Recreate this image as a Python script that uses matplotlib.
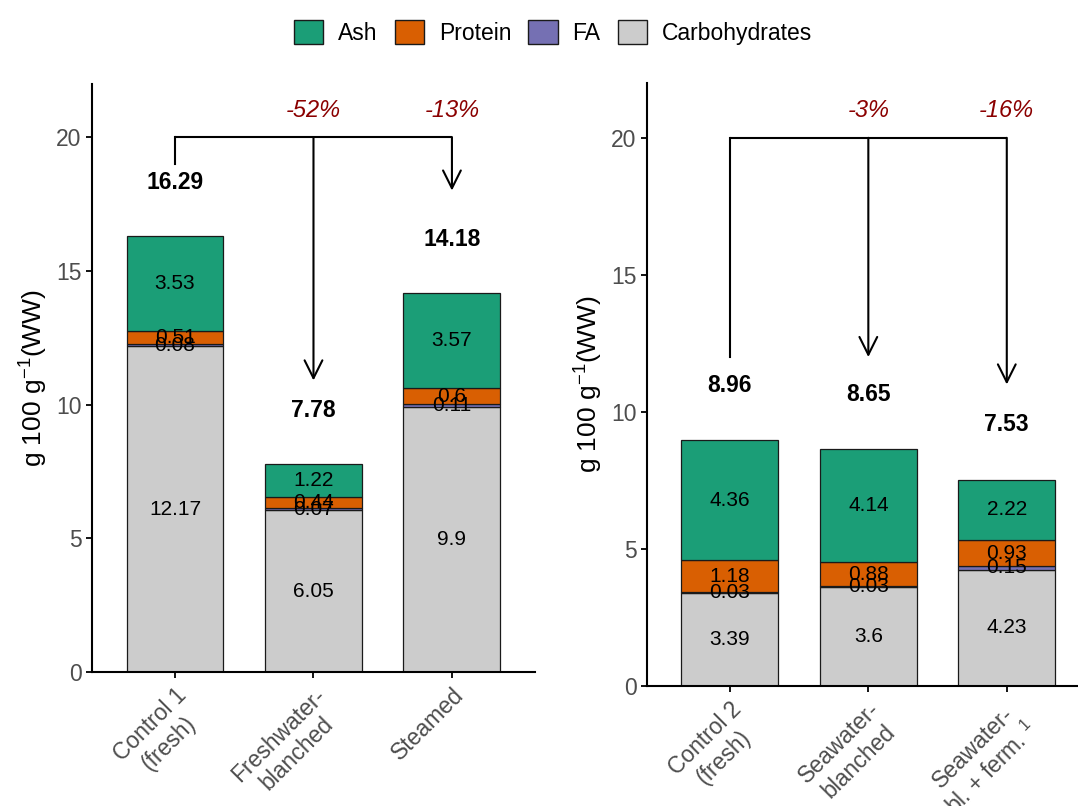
import numpy as np
import matplotlib
matplotlib.use('Agg')
from matplotlib import pyplot as plt
from matplotlib.patches import Patch

plt.rcParams['font.family'] = ['Liberation Sans', 'DejaVu Sans']
plt.rcParams['mathtext.fontset'] = 'custom'
plt.rcParams['mathtext.rm'] = 'Liberation Sans'

# data
components = ['Carbohydrates', 'FA', 'Protein', 'Ash']
colors = {'Ash': '#1B9E77', 'Protein': '#D95F02', 'FA': '#7570B3', 'Carbohydrates': '#CCCCCC'}

cats1 = ['Control 1\n(fresh)', 'Freshwater-\nblanched', 'Steamed']
carb1 = [12.17, 6.05, 9.9]
fa1 = [0.08, 0.07, 0.11]
prot1 = [0.51, 0.44, 0.6]
ash1 = [3.53, 1.22, 3.57]
pct1 = ['-52%', '-13%']
tips1 = [19.0, 10.9, 18.0]   # bracket ends (first = start leg)

cats2 = ['Control 2\n(fresh)', 'Seawater-\nblanched', 'Seawater-\nbl. + ferm. $^1$']
carb2 = [3.39, 3.6, 4.23]
fa2 = [0.03, 0.03, 0.15]
prot2 = [1.18, 0.88, 0.93]
ash2 = [4.36, 4.14, 2.22]
pct2 = ['-3%', '-16%']
tips2 = [12.0, 12.0, 11.0]

fig = plt.figure(figsize=(10.78, 8.06), dpi=100)
ax1 = fig.add_axes([0.0853, 0.1663, 0.411, 0.730])
ax2 = fig.add_axes([0.600, 0.149, 0.411, 0.748])

def panel(ax, cats, carb, fa, prot, ash, pct, tips):
	x = np.arange(1, len(cats) + 1)
	vals = {'Carbohydrates': carb, 'FA': fa, 'Protein': prot, 'Ash': ash}
	bottom = np.zeros(len(cats))
	for c in components:
		v = np.array(vals[c])
		ax.bar(x, v, 0.7, bottom=bottom, color=colors[c], edgecolor='#1a1a1a', linewidth=0.9)
		for xi, b, vi in zip(x, bottom, v):
			ax.text(xi, b + vi / 2, f'{vi:g}', ha='center', va='center', fontsize=15)
		bottom = bottom + v
	for xi, t in zip(x, bottom):
		ax.text(xi, t + 2, f'{t:.2f}', ha='center', va='center', fontsize=16.5, fontweight='bold')
	# bracket with arrows
	ax.plot([x[0], x[-1]], [20, 20], color='black', lw=1.5, solid_capstyle='butt')
	ax.plot([x[0], x[0]], [20, tips[0]], color='black', lw=1.5)
	for xi, tp in zip(x[1:], tips[1:]):
		ax.annotate('', xy=(xi, tp), xytext=(xi, 20),
			arrowprops=dict(arrowstyle='->', color='black', lw=1.5, mutation_scale=32, shrinkA=0, shrinkB=0))
	for xi, p in zip(x[1:], pct):
		ax.text(xi, 21, p, ha='center', va='center', fontsize=17, style='italic', color='#8B0000')
	ax.set_xlim(0.4, 3.6)
	ax.set_ylim(0, 22)
	ax.set_yticks([0, 5, 10, 15, 20])
	ax.set_xticks(x)
	ax.set_xticklabels(cats, rotation=45, ha='right', va='top', rotation_mode='anchor',
		multialignment='center', fontsize=16.5, color='#4D4D4D')
	ax.tick_params(axis='y', labelsize=16.5, labelcolor='#4D4D4D', length=4.5, width=1.3, pad=3)
	ax.tick_params(axis='x', length=4.5, width=1.3, pad=4)
	for s in ['top', 'right']:
		ax.spines[s].set_visible(False)
	for s in ['left', 'bottom']:
		ax.spines[s].set_linewidth(1.5)
	ax.set_ylabel('g 100 g$^{-1}$(WW)', fontsize=19, labelpad=5)

panel(ax1, cats1, carb1, fa1, prot1, ash1, pct1, tips1)
panel(ax2, cats2, carb2, fa2, prot2, ash2, pct2, tips2)

handles = [Patch(facecolor=colors[c], edgecolor='#1a1a1a', label=c) for c in ['Ash', 'Protein', 'FA', 'Carbohydrates']]
fig.legend(handles=handles, loc='center', bbox_to_anchor=(0.513, 0.960), ncol=4, frameon=False,
	fontsize=16.5, handlelength=1.27, handleheight=1.27, columnspacing=0.75, handletextpad=0.65)

plt.savefig('out.png', dpi=100)
